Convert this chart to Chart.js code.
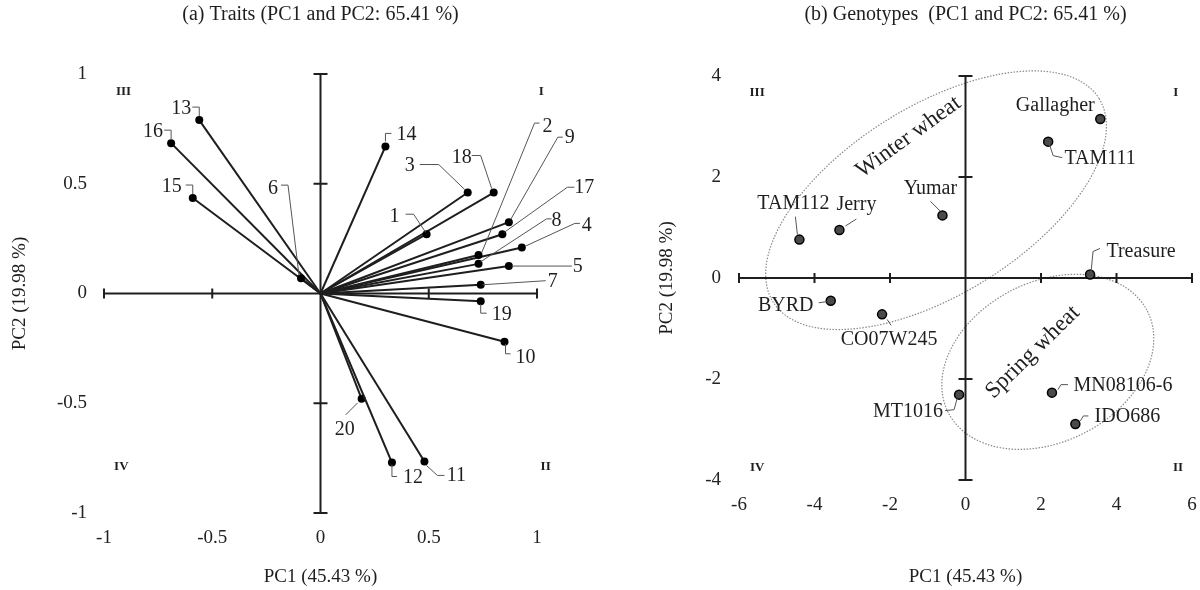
<!DOCTYPE html>
<html>
<head>
<meta charset="utf-8">
<script src="https://cdn.jsdelivr.net/npm/chart.js@4.4.1/dist/chart.umd.min.js"></script>
<style>
  html, body { margin: 0; padding: 0; background: #fff; }
  .panel { position: absolute; top: 0; width: 600px; height: 590px; }
</style>
</head>
<body>
<div class="panel" style="left:0"><canvas id="traits"></canvas></div>
<div class="panel" style="left:600px"><canvas id="genotypes"></canvas></div>
<script>
// (a) trait loadings
const traitNames = ['1','2','3','4','5','6','7','8','9','10','11','12','13','14','15','16','17','18','19','20'];
const traitPC1 = [0.49, 0.73, 0.68, 0.93, 0.87, -0.09, 0.74, 0.73, 0.87, 0.85, 0.48, 0.33, -0.56, 0.30, -0.59, -0.69, 0.84, 0.80, 0.74, 0.19];
const traitPC2 = [0.27, 0.175, 0.46, 0.21, 0.125, 0.07, 0.04, 0.135, 0.325, -0.22, -0.765, -0.77, 0.79, 0.67, 0.435, 0.685, 0.27, 0.46, -0.035, -0.48];
const traitTicks = [-1, -0.5, 0, 0.5, 1];

// (b) genotype scores
const genoNames = ['Gallagher','TAM111','Treasure','Yumar','TAM112','Jerry','BYRD','CO07W245','MT1016','MN08106-6','IDO686'];
const genoPC1 = [3.57, 2.19, 3.30, -0.61, -4.40, -3.34, -3.57, -2.21, -0.17, 2.29, 2.91];
const genoPC2 = [3.15, 2.70, 0.07, 1.24, 0.76, 0.95, -0.45, -0.72, -2.31, -2.27, -2.89];
const genoTicksX = [-6, -4, -2, 0, 2, 4, 6];
const genoTicksY = [-4, -2, 0, 2, 4];

const SERIF = "'Liberation Serif', 'DejaVu Serif', serif";
const INK = '#1e1e1e';

// label placement relative to each point (pixels): text centre + leader polyline
const traitLabelPos = [
  {t:[-32,-17], l:[[-21,-20],[-13,-20],[-1,-2]]},
  {t:[69,-128], l:[[61,-132],[56,-132],[3,-2]]},
  {t:[-58,-27], l:[[-48,-28],[-29,-28],[-3,-3]]},
  {t:[65,-22], l:[[58,-24],[53,-24],[3,-1]]},
  {t:[69,1], l:[[3,0],[63,0]]},
  {t:[-28,-89], l:[[-20,-93],[-13,-93],[-2,-3]]},
  {t:[72,-3], l:[[2,0],[65,-4]]},
  {t:[78,-43], l:[[73,-45],[68,-45],[2,-2]]},
  {t:[61,-84], l:[[54,-85],[49,-85],[2,-3]]},
  {t:[21,16], l:[[1,2],[1,12],[6,12]]},
  {t:[32,14], l:[[2,4],[13,14],[20,14]]},
  {t:[21,15], l:[[0,2],[0,14],[5,14]]},
  {t:[-18,-11], l:[[-7,-13],[0,-13],[0,-4]]},
  {t:[21,-12], l:[[6,-13],[0,-13],[0,-5]]},
  {t:[-21,-11], l:[[-7,-13],[0,-13],[0,-4]]},
  {t:[-18,-11], l:[[-7,-13],[0,-13],[0,-4]]},
  {t:[82,-46], l:[[72,-47],[65,-47],[2,-2]]},
  {t:[-32,-35], l:[[-22,-37],[-13,-37],[-2,-4]]},
  {t:[21,14], l:[[0,3],[0,12],[6,12]]},
  {t:[-17,31], l:[[-4,4],[-16,16]]}
];
const genoLabelPos = [
  {t:[-45,-13], l:[]},
  {t:[52,17], l:[[1,2],[5,14],[14,16]]},
  {t:[51,-23], l:[[1,-3],[3,-23],[10,-26]]},
  {t:[-12,-27], l:[[-12,-14],[-2,-4]]},
  {t:[-6,-36], l:[[-4,-23],[-2,-5]]},
  {t:[17,-25], l:[[6,-4],[17,-11]]},
  {t:[-45,5], l:[[-12,2],[-4,1]]},
  {t:[7,25], l:[[5,5],[9,11]]},
  {t:[-51,17], l:[[-14,16],[-5,15],[-2,4]]},
  {t:[71,-7], l:[[6,-3],[9,-8],[16,-8]]},
  {t:[52,-7], l:[[5,-3],[8,-8],[13,-8]]}
];

function decorPlugin(cfg) {
  return {
    id: 'decor',
    beforeDatasetsDraw(chart) {
      const {ctx, scales: {x, y}} = chart;
      const x0 = x.getPixelForValue(0), y0 = y.getPixelForValue(0);
      ctx.save();
      // ellipses
      const ux = Math.abs(x.getPixelForValue(1) - x0);
      cfg.ellipses.forEach(e => {
        ctx.beginPath();
        ctx.setLineDash([1.5, 1.5]);
        ctx.strokeStyle = '#8a8a8a';
        ctx.lineWidth = 1.2;
        ctx.ellipse(x.getPixelForValue(e.cx), y.getPixelForValue(e.cy), e.a * ux, e.b * ux, -e.angle * Math.PI / 180, 0, 2 * Math.PI);
        ctx.stroke();
      });
      ctx.setLineDash([]);
      // axes through the origin
      ctx.strokeStyle = INK;
      ctx.lineWidth = 2;
      ctx.beginPath();
      ctx.moveTo(x.getPixelForValue(x.min), y0); ctx.lineTo(x.getPixelForValue(x.max), y0);
      ctx.moveTo(x0, y.getPixelForValue(y.max)); ctx.lineTo(x0, y.getPixelForValue(y.min));
      cfg.xMarks.forEach(v => { const p = x.getPixelForValue(v); ctx.moveTo(p, y0 - 5); ctx.lineTo(p, y0 + 5); });
      cfg.yMarks.forEach(v => { const p = y.getPixelForValue(v); ctx.moveTo(x0 - 7, p); ctx.lineTo(x0 + 7, p); });
      ctx.stroke();
      ctx.restore();
    },
    afterDatasetsDraw(chart) {
      const {ctx, scales: {x, y}} = chart;
      ctx.save();
      // point labels with leader lines
      cfg.names.forEach((name, i) => {
        const el = cfg.pointOf(chart, i);
        const pos = cfg.labelPos[i];
        if (pos.l.length) {
          ctx.beginPath();
          ctx.strokeStyle = '#555';
          ctx.lineWidth = 1;
          pos.l.forEach((q, k) => k ? ctx.lineTo(el.x + q[0], el.y + q[1]) : ctx.moveTo(el.x + q[0], el.y + q[1]));
          ctx.stroke();
        }
        ctx.fillStyle = INK;
        ctx.font = '20px ' + SERIF;
        ctx.textAlign = 'center';
        ctx.textBaseline = 'middle';
        ctx.fillText(name, el.x + pos.t[0], el.y + pos.t[1]);
      });
      // quadrant numbers
      ctx.font = 'bold 13px ' + SERIF;
      cfg.quadrants.forEach(q => ctx.fillText(q.text, x.getPixelForValue(q.x), y.getPixelForValue(q.y)));
      // group names
      ctx.font = '23px ' + SERIF;
      cfg.groups.forEach(g => {
        ctx.save();
        ctx.translate(x.getPixelForValue(g.x), y.getPixelForValue(g.y));
        ctx.rotate(-g.angle * Math.PI / 180);
        ctx.fillText(g.text, 0, 0);
        ctx.restore();
      });
      ctx.restore();
    },
    afterDraw(chart) {
      const {ctx, chartArea: a} = chart;
      ctx.save();
      ctx.fillStyle = INK;
      ctx.textAlign = 'center';
      ctx.textBaseline = 'middle';
      ctx.font = '20px ' + SERIF;
      ctx.fillText(cfg.title, (a.left + a.right) / 2, 15);
      ctx.font = '19px ' + SERIF;
      ctx.fillText('PC1 (45.43 %)', (a.left + a.right) / 2, 577);
      ctx.translate(cfg.yTitleX, (a.top + a.bottom) / 2);
      ctx.rotate(-Math.PI / 2);
      ctx.fillText('PC2 (19.98 %)', 0, 0);
      ctx.restore();
    }
  };
}

function axis(min, max, ticks, pad, size, horizontal) {
  return {
    type: 'linear', min: min, max: max,
    afterBuildTicks: s => { s.ticks = ticks.map(v => ({value: v})); },
    afterFit: s => {
      if (horizontal) s.height = size; else s.width = size;
      s.paddingLeft = s.paddingRight = s.paddingTop = s.paddingBottom = 0;
    },
    grid: {display: false, drawTicks: false},
    border: {display: false},
    ticks: {font: {family: SERIF, size: 19}, color: '#222', padding: pad, callback: v => String(v)}
  };
}

// panel (a)
new Chart(document.getElementById('traits'), {
  type: 'scatter',
  data: {
    datasets: traitPC1.map((v, i) => ({
      data: [{x: 0, y: 0}, {x: v, y: traitPC2[i]}],
      showLine: true,
      borderColor: INK,
      borderWidth: 2,
      pointRadius: [0, 4],
      pointBackgroundColor: '#000',
      pointBorderWidth: 0
    }))
  },
  options: {
    responsive: true,
    maintainAspectRatio: false,
    animation: false,
    layout: {padding: {top: 74, right: 63, bottom: 0, left: 0}},
    plugins: {legend: {display: false}, tooltip: {enabled: false}},
    scales: {
      x: axis(-1, 1, traitTicks, 14, 77, true),
      y: axis(-1, 1, traitTicks, 17, 104, false)
    }
  },
  plugins: [decorPlugin({
    title: '(a) Traits (PC1 and PC2: 65.41 %)',
    yTitleX: 20,
    xMarks: [-1, -0.5, 0.5, 1],
    yMarks: [-1, -0.5, 0.5, 1],
    ellipses: [],
    groups: [],
    quadrants: [
      {text: 'III', x: -0.91, y: 0.92}, {text: 'I', x: 1.02, y: 0.92},
      {text: 'IV', x: -0.92, y: -0.79}, {text: 'II', x: 1.04, y: -0.79}
    ],
    names: traitNames,
    labelPos: traitLabelPos,
    pointOf: (chart, i) => chart.getDatasetMeta(i).data[1]
  })]
});

// panel (b)
new Chart(document.getElementById('genotypes'), {
  type: 'scatter',
  data: {
    datasets: [{
      data: genoPC1.map((v, i) => ({x: v, y: genoPC2[i]})),
      pointRadius: 4.5,
      pointBackgroundColor: '#4a4a4a',
      pointBorderColor: '#000',
      pointBorderWidth: 1.5
    }]
  },
  options: {
    responsive: true,
    maintainAspectRatio: false,
    animation: false,
    layout: {padding: {top: 76, right: 8, bottom: 0, left: 0}},
    plugins: {legend: {display: false}, tooltip: {enabled: false}},
    scales: {
      x: axis(-6, 6, genoTicksX, 14, 110, true),
      y: axis(-4, 4, genoTicksY, 18, 139, false)
    }
  },
  plugins: [decorPlugin({
    title: '(b) Genotypes  (PC1 and PC2: 65.41 %)',
    yTitleX: 67,
    xMarks: [-6, -4, -2, 2, 4, 6],
    yMarks: [-4, -2, 2, 4],
    ellipses: [
      {cx: -0.78, cy: 1.54, a: 5.09, b: 2.49, angle: 32},
      {cx: 2.18, cy: -1.66, a: 2.96, b: 2.12, angle: 27}
    ],
    groups: [
      {text: 'Winter wheat', x: -1.51, y: 2.79, angle: 36},
      {text: 'Spring wheat', x: 1.78, y: -1.47, angle: 44.5}
    ],
    quadrants: [
      {text: 'III', x: -5.52, y: 3.68}, {text: 'I', x: 5.57, y: 3.68},
      {text: 'IV', x: -5.52, y: -3.76}, {text: 'II', x: 5.63, y: -3.76}
    ],
    names: genoNames,
    labelPos: genoLabelPos,
    pointOf: (chart, i) => chart.getDatasetMeta(0).data[i]
  })]
});
</script>
</body>
</html>
